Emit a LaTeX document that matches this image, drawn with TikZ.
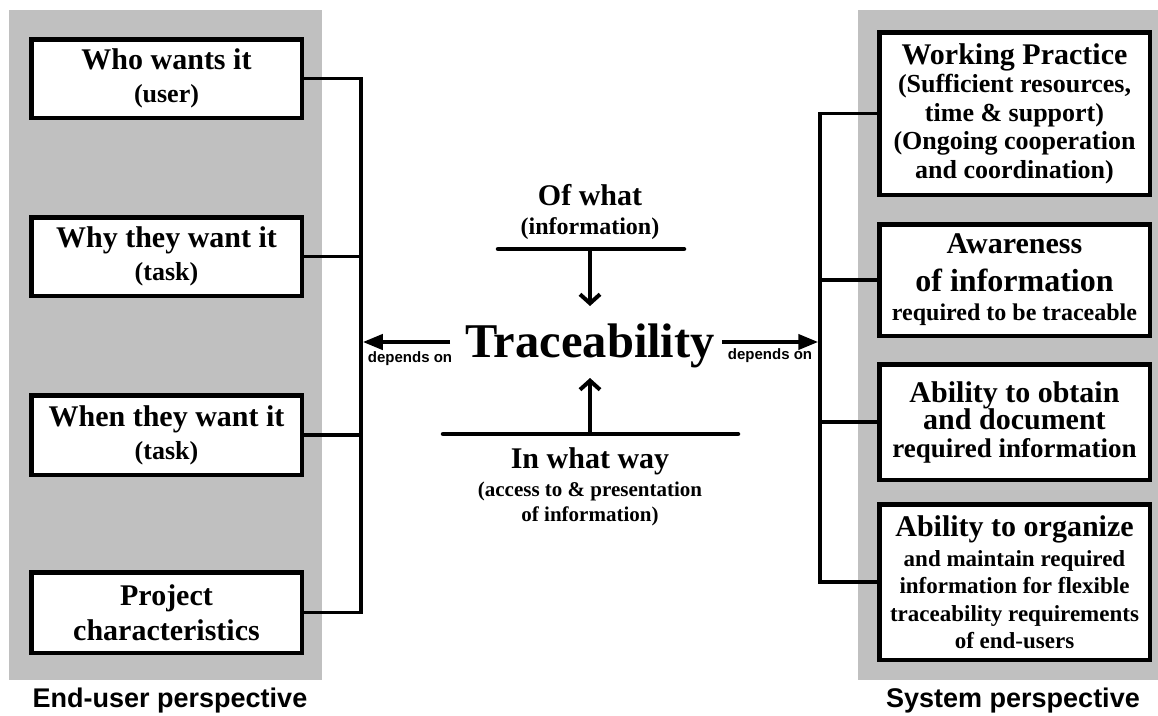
\documentclass[tikz,border=0pt]{standalone}
\usepackage{fontspec}
\setmainfont{Liberation Serif}
\setsansfont{Liberation Sans}
\usetikzlibrary{arrows.meta}
\newcommand\myfs[2]{\fontsize{#1}{#2}\selectfont}
\definecolor{panelgray}{HTML}{C0C0C0}
\begin{document}
\begin{tikzpicture}[x=1pt,y=-1pt,
  panel/.style={fill=panelgray,draw=none},
  box/.style={draw,line width=4.5pt,fill=white,minimum width=270.5pt,align=center,inner sep=0pt,font=\bfseries},
  conn/.style={line width=3.5pt},
  bar/.style={line width=4.5pt,line cap=round},
  triarrow/.style={line width=4pt,-{Triangle[length=20pt,width=15pt]}},
  barbarrow/.style={line width=4pt,-{Straight Barb[length=9pt,width=20pt,line width=4pt]}},
  dep/.style={font=\sffamily\bfseries\myfs{15}{17},inner sep=0pt},
  persp/.style={font=\sffamily\bfseries\myfs{27}{30},inner sep=0pt,anchor=base},
  ctext/.style={align=center,inner sep=0pt,font=\bfseries}
]
\useasboundingbox (0,0) rectangle (1158,715);
% panels
\fill[panel] (9,10) rectangle (322,680);
\fill[panel] (858,10) rectangle (1158,680);

% left boxes
\node[box,minimum height=78.5pt,font=\bfseries\myfs{26}{33}] (l1) at (166.5,78.5)
  {{\myfs{30}{33}Who wants it}\\(user)};
\node[box,minimum height=78.5pt,font=\bfseries\myfs{26}{33}] (l2) at (166.5,256.5)
  {{\myfs{30}{33}Why they want it}\\(task)};
\node[box,minimum height=79.5pt,font=\bfseries\myfs{26}{33}] (l3) at (166.5,435)
  {{\myfs{30}{33}When they want it}\\(task)};
\node[box,minimum height=80.5pt,font=\bfseries\myfs{30}{35}] (l4) at (166.5,612.5)
  {Project\\characteristics};

% right boxes
\node[box,minimum height=162.5pt,font=\bfseries\myfs{26}{28.5}] (r1) at (1014.5,113.5)
  {{\myfs{30}{33}Working Practice}\\(Sufficient resources,\\time \& support)\\(Ongoing cooperation\\and coordination)};
\node[box,minimum height=111.5pt,font=\bfseries\myfs{24}{29}] (r2) at (1014.5,280)
  {{\myfs{30}{33}Awareness}\\[9pt]{\myfs{32}{36}of information}\\required to be traceable};
\node[box,minimum height=115.5pt,font=\bfseries\myfs{27}{27.5}] (r3) at (1014.5,422)
  {{\myfs{30}{33}Ability to obtain}\\{\myfs{30}{33}and document}\\required information};
\node[box,minimum height=155.5pt,font=\bfseries\myfs{23}{27.5}] (r4) at (1014.5,582)
  {{\myfs{30}{33}Ability to organize}\\[2.5pt]and maintain required\\information for flexible\\traceability requirements\\of end-users};

% brackets
\coordinate (lbar) at (361,0);
\coordinate (rbar) at (820,0);
\draw[conn] (l1.east) -- (l1.east -| lbar) -- (l4.east -| lbar) -- (l4.east);
\draw[conn] (l2.east) -- (l2.east -| lbar);
\draw[conn] (l3.east) -- (l3.east -| lbar);
\draw[conn] (r1.west) -- (r1.west -| rbar) -- (r4.west -| rbar) -- (r4.west);
\draw[conn] (r2.west) -- (r2.west -| rbar);
\draw[conn] (r3.west) -- (r3.west -| rbar);

% center
\node[ctext,anchor=base,font=\bfseries\myfs{48.5}{50}] (trace) at (590,357) {Traceability};
\node[ctext,font=\bfseries\myfs{24}{29}] (ofwhat) at (590,212) {{\myfs{30}{33}Of what}\\(information)};
\node[ctext,font=\bfseries\myfs{21}{25}] (inway) at (590,487) {{\myfs{30}{33}In what way}\\[3pt](access to \& presentation\\of information)};

\coordinate (tl1) at (498,249);
\coordinate (tl2) at (684,249);
\coordinate (tlm) at (590,249);
\coordinate (tla) at (590,306);
\draw[bar] (tl1) -- (tl2);
\draw[barbarrow] (tlm) -- (tla);

\coordinate (bl1) at (443,434);
\coordinate (bl2) at (738,434);
\coordinate (blm) at (590,434);
\coordinate (bla) at (590,378);
\draw[bar] (bl1) -- (bl2);
\draw[barbarrow] (blm) -- (bla);

\coordinate (la) at (450,342);
\coordinate (ra) at (722,342);
\draw[triarrow,shorten >=1.75pt] (la) -- (la -| lbar);
\draw[triarrow,shorten >=1.75pt] (ra) -- (ra -| rbar);
\node[dep] (depl) at (410,359) {depends on};
\node[dep] (depr) at (770,356) {depends on};

% perspectives
\node[persp] (pl) at (170,707) {End-user perspective};
\node[persp] (pr) at (1013,707) {System perspective};
\end{tikzpicture}
\end{document}
